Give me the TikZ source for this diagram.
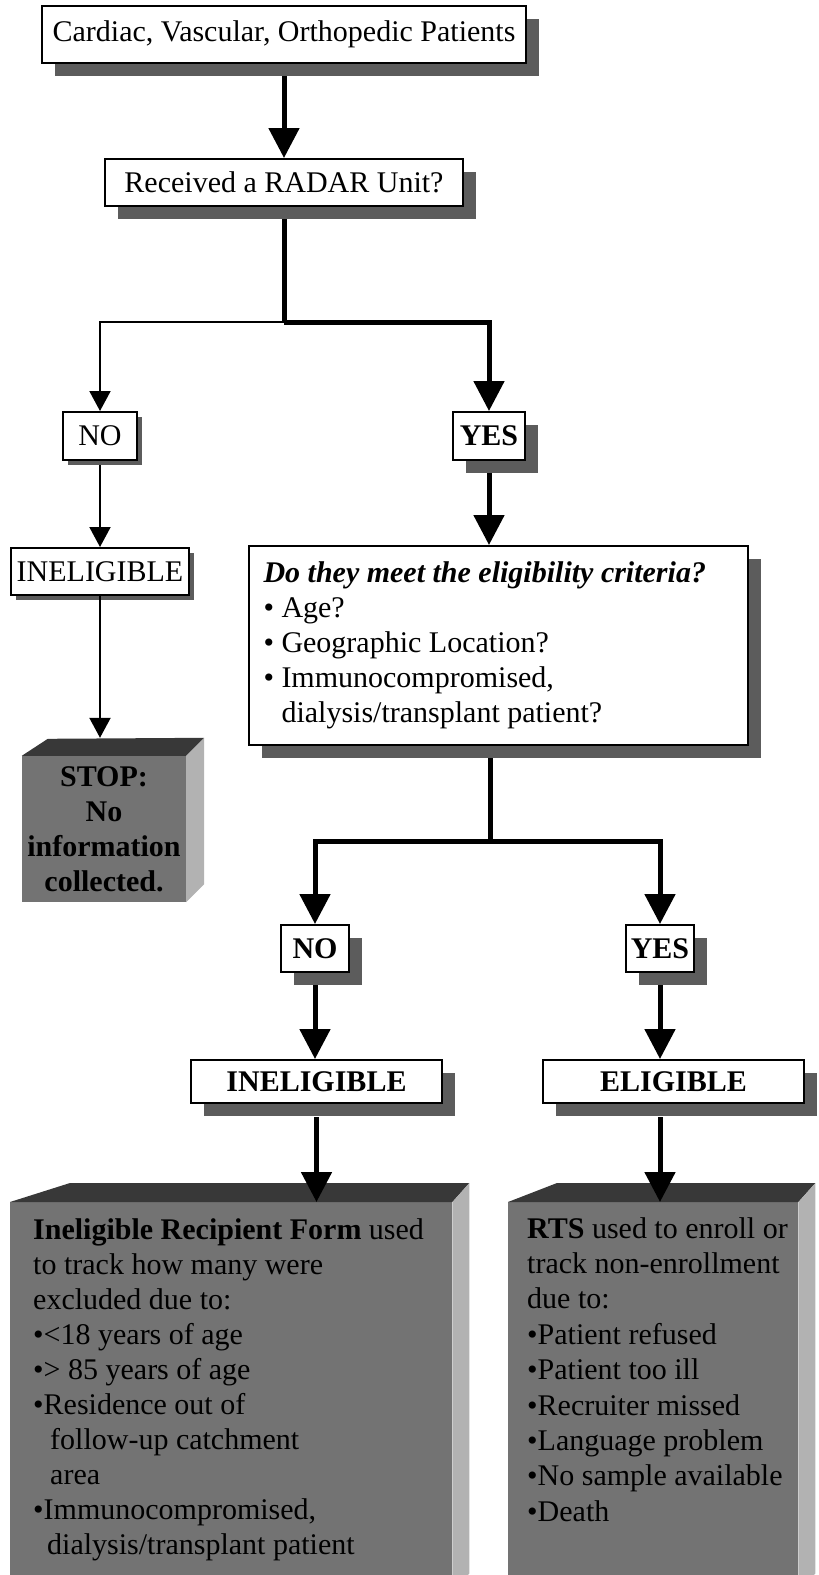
\documentclass[tikz,border=0pt]{standalone}
\usepackage{fontspec}
\setmainfont{Liberation Serif}
\usetikzlibrary{arrows.meta,shadows,calc}
\pgfdeclarelayer{connectors}
\pgfsetlayers{connectors,main}

\definecolor{shadowgray}{gray}{0.36}
\definecolor{cubefront}{gray}{0.45}
\definecolor{cubetop}{gray}{0.22}
\definecolor{cubeside}{gray}{0.70}

\begin{document}
\begin{tikzpicture}[x=1pt,y=-1pt,
  every node/.style={font=\fontsize{30}{35}\selectfont},
  boldtext/.style={font=\fontsize{30}{35}\selectfont\bfseries},
  box/.style={draw=black, line width=2pt, fill=white, inner sep=0pt, align=center},
  bigshadow/.style={general shadow={fill=shadowgray, shadow xshift=13pt, shadow yshift=-13pt}},
  smallshadow/.style={general shadow={fill=shadowgray, shadow xshift=5pt, shadow yshift=-5pt}},
  thickline/.style={line width=5pt},
  thickarrow/.style={line width=5pt, -{Triangle[length=30pt,width=30pt]}},
  thinarrow/.style={line width=2pt, -{Triangle[length=20pt,width=21pt]}},
  cubeface/.style={fill=cubefront, inner sep=0pt},
  cubetopface/.style={fill=cubetop},
  cubesideface/.style={fill=cubeside}
]
\useasboundingbox (0,0) rectangle (819,1575);
\clip (0,0) rectangle (819,1575);

% --- decision boxes ---
\node[box, bigshadow, minimum width=484pt, minimum height=57pt] (top) at (284,34) {Cardiac, Vascular, Orthopedic Patients};
\node[box, bigshadow, minimum width=358pt, minimum height=47pt] (radar) at (284,182.5) {Received a RADAR Unit?};

\node[box, smallshadow, minimum width=74pt, minimum height=48pt] (no1) at (100,436) {NO};
\node[box, bigshadow, boldtext, minimum width=72pt, minimum height=48pt] (yes1) at (489,436) {YES};

\node[box, smallshadow, minimum width=178pt, minimum height=47pt] (inel1) at (100,571.5) {INELIGIBLE};

\node[box, bigshadow, minimum width=499pt, minimum height=199pt, align=flush left, text width=470pt] (crit) at (498.5,645.5)
  {{\bfseries\itshape Do they meet the eligibility criteria?}\\
   • Age?\\
   • Geographic Location?\\
   • Immunocompromised,\\
   \hphantom{•~}dialysis/transplant patient?};

\node[box, bigshadow, boldtext, minimum width=68pt, minimum height=47pt] (no2) at (315,948.5) {NO};
\node[box, bigshadow, boldtext, minimum width=68pt, minimum height=47pt] (yes2) at (660,948.5) {YES};

\node[box, bigshadow, boldtext, minimum width=251pt, minimum height=43pt] (inel2) at (316.5,1081.5) {INELIGIBLE};
\node[box, bigshadow, boldtext, minimum width=261pt, minimum height=43pt] (elig) at (673.5,1081.5) {ELIGIBLE};

% --- branch points ---
\coordinate (fork1) at (284,322);
\coordinate (fork2) at (490,841);

% --- connectors behind the boxes ---
\begin{pgfonlayer}{connectors}
  \draw[thickarrow] (top) -- (radar);
  \draw[thickline] (radar) -- (fork1);
  \draw[thinarrow] (fork1) -| (no1);
  \draw[thickarrow] (fork1) -| (yes1);
  \draw[thinarrow] (no1) -- (inel1);
  \draw[thickarrow] (yes1) -- (yes1 |- crit.north);
  \draw[thickline] (crit.south -| fork2) -- (fork2);
  \draw[thickarrow] (fork2) -| (no2);
  \draw[thickarrow] (fork2) -| (yes2);
  \draw[thickarrow] (no2) -- (no2 |- inel2.north);
  \draw[thickarrow] (yes2) -- (yes2 |- elig.north);
\end{pgfonlayer}

% --- STOP cube ---
\node[cubeface, boldtext, minimum width=164pt, minimum height=146pt, align=center] (stop) at (104,829)
  {STOP:\\No\\information\\collected.};
\fill[cubetopface] (stop.north west) -- ++(26,-17) -- ([shift={(18,-18)}]stop.north east) -- (stop.north east) -- cycle;
\fill[cubesideface] (stop.north east) -- ++(18,-18) -- ([shift={(18,-18)}]stop.south east) -- (stop.south east) -- cycle;
\coordinate (stopback) at ([shift={(0,-18)}]stop.north);

% --- form cubes ---
\node[cubeface, anchor=north west, minimum width=442pt, minimum height=390pt] (formL) at (10,1202) {};
\fill[cubetopface] (formL.north west) -- ++(60,-19) -- ([shift={(17,-19)}]formL.north east) -- (formL.north east) -- cycle;
\fill[cubesideface] (formL.north east) -- ++(17,-19) -- ([shift={(17,-19)}]formL.south east) -- (formL.south east) -- cycle;

\node[cubeface, anchor=north west, minimum width=290pt, minimum height=390pt] (formR) at (508,1202) {};
\fill[cubetopface] (formR.north west) -- ++(49,-19) -- ([shift={(17,-19)}]formR.north east) -- (formR.north east) -- cycle;
\fill[cubesideface] (formR.north east) -- ++(17,-19) -- ([shift={(17,-19)}]formR.south east) -- (formR.south east) -- cycle;

\node[anchor=north west, align=flush left, inner sep=0pt] (formLtext) at (33,1218)
  {{\bfseries Ineligible Recipient Form} used\\
   to track how many were\\
   excluded due to:\\
   •<18 years of age\\
   •> 85 years of age\\
   •Residence out of\\
   \hspace*{17pt}follow-up catchment\\
   \hspace*{17pt}area\\
   •Immunocompromised,\\
   \hspace*{14pt}dialysis/transplant patient};

\node[anchor=north west, align=flush left, inner sep=0pt, font=\fontsize{30}{35.4}\selectfont] (formRtext) at (527,1217)
  {{\bfseries RTS} used to enroll or\\
   track non-enrollment\\
   due to:\\
   •Patient refused\\
   •Patient too ill\\
   •Recruiter missed\\
   •Language problem\\
   •No sample available\\
   •Death};

% --- arrows into the cubes ---
\draw[thinarrow] (inel1.south) -- (inel1.south |- stopback);
\draw[thickarrow] ($(inel2.south)+(0,13)$) -- (inel2.south |- formL.north);
\draw[thickarrow] ($(yes2 |- elig.south)+(0,13)$) -- (yes2 |- formR.north);
\end{tikzpicture}
\end{document}
